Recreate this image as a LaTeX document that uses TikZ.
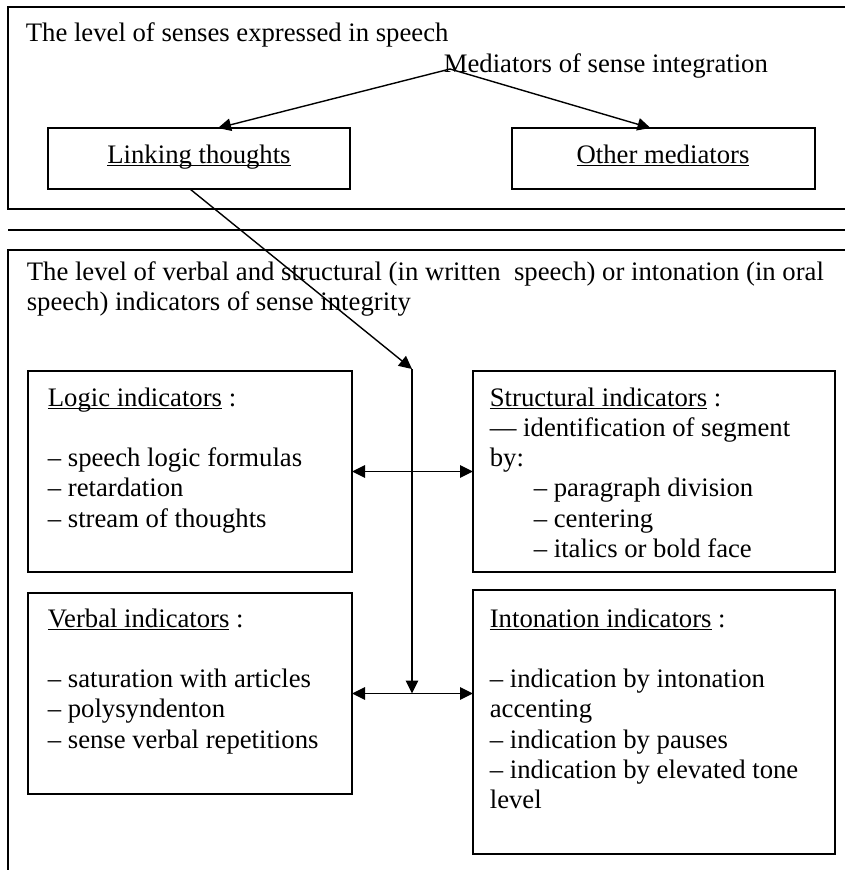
\documentclass[tikz,border=0pt]{standalone}
\usepackage{fontspec}
\setmainfont{Liberation Serif}
\usetikzlibrary{arrows.meta,calc}
\newsavebox\ulbox
\newcommand\myul[1]{\sbox\ulbox{#1}\rlap{\rule[-3pt]{\wd\ulbox}{1.4pt}}\usebox\ulbox}
\begin{document}
\begin{tikzpicture}[x=1pt,y=-1pt, line width=1.7pt,
  box/.style={draw, line width=1.7pt, inner sep=0pt, outer sep=0pt, anchor=north west},
  txt/.style={inner sep=0pt, anchor=base west, font=\fontsize{26.7}{30.3}\selectfont},
  arr/.style={-{Triangle[length=13pt,width=12.5pt]}, line width=1.4pt},
  darr/.style={{Triangle[length=13pt,width=12.5pt]}-{Triangle[length=13pt,width=12.5pt]}, line width=1.4pt}]
\useasboundingbox (0,0) rectangle (845,870);
% frames
\draw (852,7) -- (8,7) -- (8,209) -- (852,209);
\draw (8,230) -- (852,230);
\draw (852,250) -- (8,250) -- (8,876);
% upper level
\node[txt] (t1) at (25,41) {The level of senses expressed in speech};
\node[txt] (med) at (443,72) {Mediators of sense integration};
\node[box, minimum width=302pt, minimum height=61pt] (link) at (48,128) {};
\node[box, minimum width=303pt, minimum height=61pt] (other) at (512,128) {};
\node[txt, anchor=base] (linkt) at (199,163) {\myul{Linking thoughts}};
\node[txt, anchor=base] (othert) at (663,163) {\myul{Other mediators}};
\coordinate (apex) at (450,69);
\draw[arr] (apex) -- ([xshift=19pt]link.north);
\draw[arr] (apex) -- ([xshift=-13pt]other.north);
% lower level
\node[txt] (t2) at (26,280) {\vtop{\hbox{The level of verbal and structural (in written\ \ speech) or intonation (in oral}\hbox{speech) indicators of sense integrity}}};
\node[box, minimum width=324pt, minimum height=201pt] (logic) at (28,371) {};
\node[box, minimum width=362pt, minimum height=201pt] (struct) at (473,371) {};
\node[box, minimum width=324pt, minimum height=201pt] (verbal) at (28,593) {};
\node[box, minimum width=362pt, minimum height=264pt] (inton) at (473,590) {};
\node[txt] (logict) at (47,406) {\vtop{\hbox{\myul{Logic indicators} :}\hbox{}\hbox{– speech logic formulas}\hbox{– retardation}\hbox{– stream of thoughts}}};
\node[txt] (structt) at (489,406) {\vtop{\hbox{\myul{Structural indicators} :}\hbox{— identification of segment}\hbox{by:}\hbox{\hskip44pt– paragraph division}\hbox{\hskip44pt– centering}\hbox{\hskip44pt– italics or bold face}}};
\node[txt] (verbalt) at (47,627) {\vtop{\hbox{\myul{Verbal indicators} :}\hbox{}\hbox{– saturation with articles}\hbox{– polysyndenton}\hbox{– sense verbal repetitions}}};
\node[txt] (intont) at (489,627) {\vtop{\hbox{\myul{Intonation indicators} :}\hbox{}\hbox{– indication by intonation}\hbox{accenting}\hbox{– indication by pauses}\hbox{– indication by elevated tone}\hbox{level}}};
% connectors
\coordinate (vt) at (412,369);
\draw[arr] ([xshift=-9pt]link.south) -- (vt);
\draw[arr] (vt) -- (vt |- verbal.east);
\draw[darr] (logic.east) -- (struct.west);
\draw[darr] (verbal.east) -- (verbal.east -| inton.west);
\end{tikzpicture}
\end{document}
